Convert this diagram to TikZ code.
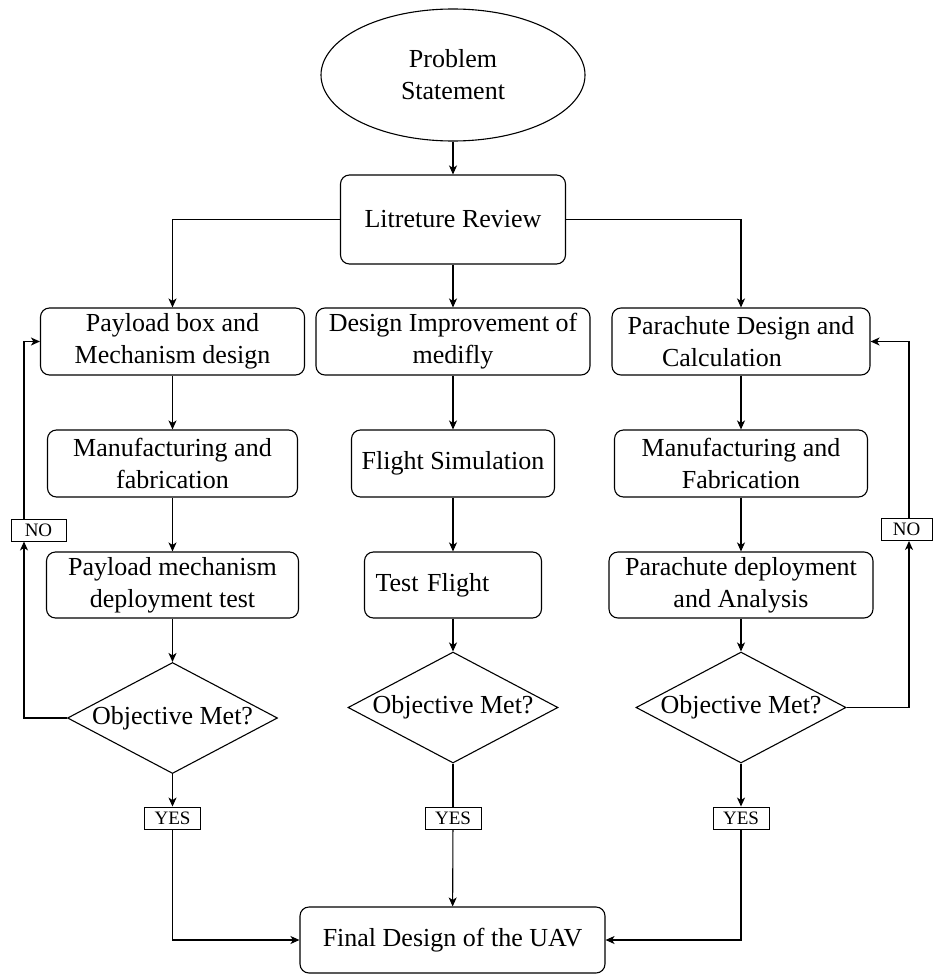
\documentclass[tikz,border=0pt]{standalone}
\usepackage{fontspec}
\setmainfont{Liberation Serif}
\usetikzlibrary{shapes.geometric,arrows.meta}
\begin{document}
\begin{tikzpicture}[x=1pt,y=-1pt,
  line width=1.1pt,
  every node/.style={font=\fontsize{26}{32}\selectfont},
  procbox/.style={draw, rounded corners=9pt, align=center, inner sep=0pt},
  startnode/.style={draw, ellipse, align=center, inner sep=0pt, minimum width=264pt, minimum height=132pt},
  decision/.style={draw, diamond, aspect=1.9, inner sep=0pt, minimum width=210pt, minimum height=111pt},
  tag/.style={draw, line width=0.9pt, inner sep=0pt, minimum height=22pt, font=\fontsize{19}{22}\selectfont},
  arr/.style={-{Stealth[length=9pt,width=8pt,inset=2.5pt]}},
  link/.style={}
]
\useasboundingbox (0,0) rectangle (932,974);

% start and literature review
\node[startnode] (ps) at (453,75) {Problem\\Statement};
\node[procbox, minimum width=225pt, minimum height=89pt] (lit) at (453,219.5) {Litreture Review};

% left column: payload
\node[procbox, minimum width=264pt, minimum height=67pt] (pb) at (172.5,341.5) {Payload box and\\Mechanism design};
\node[procbox, minimum width=250pt, minimum height=67pt] (mf1) at (172.5,463.5) {Manufacturing and\\fabrication};
\node[procbox, minimum width=252pt, minimum height=66pt] (pm) at (172.5,585) {Payload mechanism\\deployment test};
\node[decision] (d1) at (172.5,718) {Objective Met?};
\node[tag, minimum width=56pt] (y1) at (172.5,818) {YES};
\node[tag, minimum width=55pt] (no1) at (38.5,530) {NO};

% middle column: airframe
\node[procbox, minimum width=274pt, minimum height=67pt] (di) at (453,341.5) {Design Improvement of\\medifly};
\node[procbox, minimum width=203pt, minimum height=67pt] (fs) at (453,463.5) {Flight Simulation};
\node[procbox, minimum width=177pt, minimum height=66pt, text width=155pt, align=left] (tf) at (453,585) {Test Flight};
\node[decision] (d2) at (453,707.5) {Objective Met?};
\node[tag, minimum width=56pt] (y2) at (453,818) {YES};

% right column: parachute
\node[procbox, minimum width=258pt, minimum height=67pt] (pd) at (741,341.5) {Parachute Design and\\Calculation\hspace*{38pt}};
\node[procbox, minimum width=253pt, minimum height=67pt] (mf2) at (741,463.5) {Manufacturing and\\Fabrication};
\node[procbox, minimum width=264pt, minimum height=66pt] (pa) at (741,585) {Parachute deployment\\and Analysis};
\node[decision] (d3) at (741,707.5) {Objective Met?};
\node[tag, minimum width=56pt] (y3) at (741,818) {YES};
\node[tag, minimum width=51pt] (no2) at (906.5,529.5) {NO};

% final result
\node[procbox, minimum width=305pt, minimum height=66pt] (fin) at (452.5,940) {Final Design of the UAV};

% loop-back rails
\coordinate (lx) at (24,0);
\coordinate (rx) at (909,0);

% flow
\draw[arr] (ps) -- (lit);
\draw[arr] (lit.west) -| (pb.north);
\draw[arr] (lit) -- (di);
\draw[arr] (lit.east) -| (pd.north);

\draw[arr] (pb) -- (mf1);
\draw[arr] (mf1) -- (pm);
\draw[arr] (pm) -- (d1);
\draw[arr] (d1) -- (y1);
\draw[arr] (y1.south) |- (fin.west);
\draw[arr] (d1.west) -| (lx |- no1.south);
\draw[arr] (lx |- no1.north) |- (pb.west);

\draw[arr] (di) -- (fs);
\draw[arr] (fs) -- (tf);
\draw[arr] (tf) -- (d2);
\draw (d2) -- (y2);
\draw[arr] (y2) -- (fin);

\draw[arr] (pd) -- (mf2);
\draw[arr] (mf2) -- (pa);
\draw[arr] (pa) -- (d3);
\draw[arr] (d3) -- (y3);
\draw[arr] (y3.south) |- (fin.east);
\draw[arr] (d3.east) -| (rx |- no2.south);
\draw[arr] (rx |- no2.north) |- (pd.east);
\end{tikzpicture}
\end{document}
